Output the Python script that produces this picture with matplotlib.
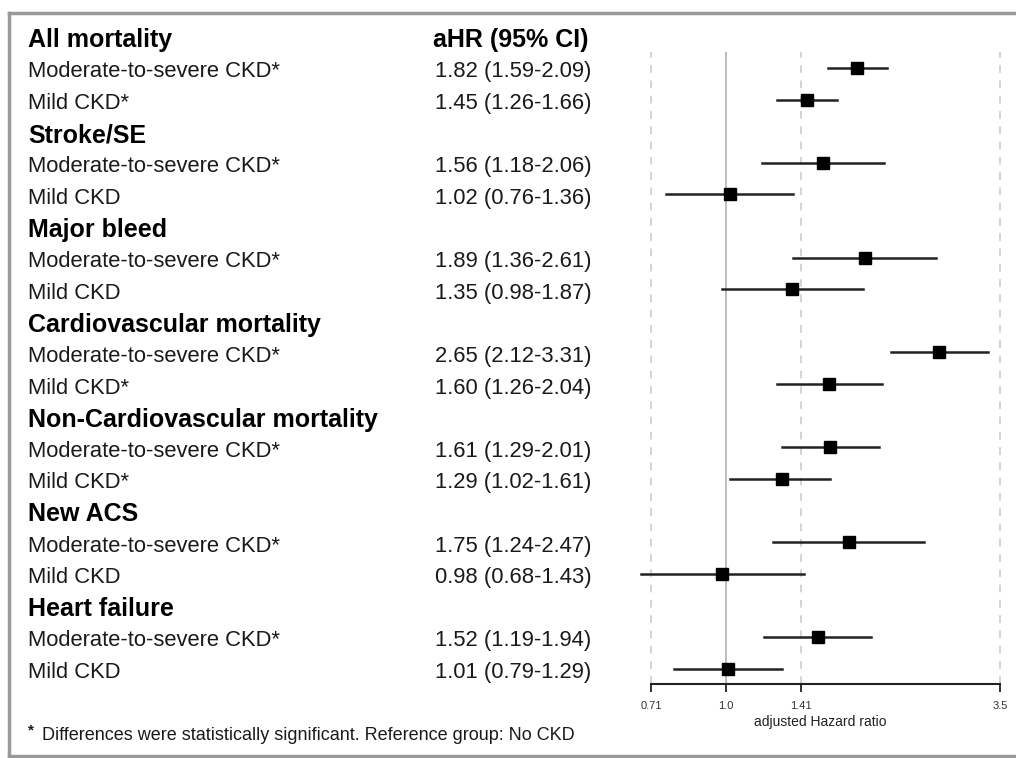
import matplotlib
matplotlib.use("Agg")
import matplotlib.pyplot as plt
from matplotlib.transforms import blended_transform_factory, offset_copy

plt.rcParams['font.family'] = ['Liberation Sans', 'DejaVu Sans']

# rows of the forest plot (None = group header)
labels = ["All mortality", "Moderate-to-severe CKD*", "Mild CKD*",
          "Stroke/SE", "Moderate-to-severe CKD*", "Mild CKD",
          "Major bleed", "Moderate-to-severe CKD*", "Mild CKD",
          "Cardiovascular mortality", "Moderate-to-severe CKD*", "Mild CKD*",
          "Non-Cardiovascular mortality", "Moderate-to-severe CKD*", "Mild CKD*",
          "New ACS", "Moderate-to-severe CKD*", "Mild CKD",
          "Heart failure", "Moderate-to-severe CKD*", "Mild CKD"]
is_header = [True, False, False] * 7
hr = [None, 1.82, 1.45, None, 1.56, 1.02, None, 1.89, 1.35, None, 2.65, 1.60,
      None, 1.61, 1.29, None, 1.75, 0.98, None, 1.52, 1.01]
lo = [None, 1.59, 1.26, None, 1.18, 0.76, None, 1.36, 0.98, None, 2.12, 1.26,
      None, 1.29, 1.02, None, 1.24, 0.68, None, 1.19, 0.79]
hi = [None, 2.09, 1.66, None, 2.06, 1.36, None, 2.61, 1.87, None, 3.31, 2.04,
      None, 2.01, 1.61, None, 2.47, 1.43, None, 1.94, 1.29]

xticks = [0.71, 1.0, 1.41, 3.5]
xtick_labels = ["0.71", "1.0", "1.41", "3.5"]

fig = plt.figure(figsize=(10.16, 7.58), dpi=100)
ax = fig.add_axes([0.620, 0.0976, 0.374, 0.8338])
ax.set_xscale("log")
ax.set_xlim(0.645, 3.657)
ax.set_ylim(20.49, 0.494)

# reference lines
for t in xticks:
    if t == 1.0:
        ax.axvline(t, color="#aaaaaa", lw=1.1, zorder=1)
    else:
        ax.axvline(t, color="#c8c8c8", lw=1.1, ls=(0, (5, 5)), zorder=1)

# text rows share the y of the plot rows, nudged down a little
trans = offset_copy(blended_transform_factory(fig.transFigure, ax.transData),
                    fig=fig, y=-4, units="dots")
for i, lab in enumerate(labels):
    if is_header[i]:
        ax.text(28 / 1016, i, lab, transform=trans, fontsize=18,
                fontweight="bold", va="center", ha="left", color="black")
    else:
        ax.text(28 / 1016, i, lab, transform=trans, fontsize=15.8,
                va="center", ha="left", color="#1a1a1a")
        ax.text(435 / 1016, i, f"{hr[i]:.2f} ({lo[i]:.2f}-{hi[i]:.2f})",
                transform=trans, fontsize=15.8, va="center", ha="left",
                color="#1a1a1a")
        ax.plot([lo[i], hi[i]], [i, i], color="#222222", lw=1.8, zorder=2)
        ax.plot(hr[i], i, marker="s", ms=8, color="black", zorder=3)

ax.text(433 / 1016, 0, "aHR (95% CI)", transform=trans, fontsize=18,
        fontweight="bold", va="center", ha="left", color="black")

for s in ["left", "right", "top"]:
    ax.spines[s].set_visible(False)
ax.spines["bottom"].set_bounds(xticks[0], xticks[-1])
ax.spines["bottom"].set_linewidth(1.5)
ax.spines["bottom"].set_color("#222222")
ax.set_yticks([])
ax.set_xticks(xticks)
ax.set_xticklabels(xtick_labels)
ax.minorticks_off()
ax.tick_params(axis="x", length=6, width=1.3, color="#222222",
               labelsize=8, pad=6, labelcolor="#333333")
ax.set_xlabel("adjusted Hazard ratio", fontsize=10, labelpad=3, color="#222222")

# footnote
fig.text(28 / 1016, 1 - 730 / 758, "*", fontsize=11, va="center", ha="left",
         color="#1a1a1a", fontweight="bold")
fig.text(42 / 1016, 1 - 736 / 758,
         "Differences were statistically significant. Reference group: No CKD",
         fontsize=13, va="center", ha="left", color="#1a1a1a")

# grey frame (open on the right)
fx0, fy0, fy1 = 9 / 1016, 1 - 756 / 758, 1 - 13 / 758
frame = dict(color="#9a9a9a", lw=2.5, transform=fig.transFigure)
fig.add_artist(plt.Line2D([fx0, 1.0], [fy1, fy1], **frame))
fig.add_artist(plt.Line2D([fx0, 1.0], [fy0, fy0], **frame))
fig.add_artist(plt.Line2D([fx0, fx0], [fy0, fy1], **frame))

fig.savefig("out.png", dpi=100)
